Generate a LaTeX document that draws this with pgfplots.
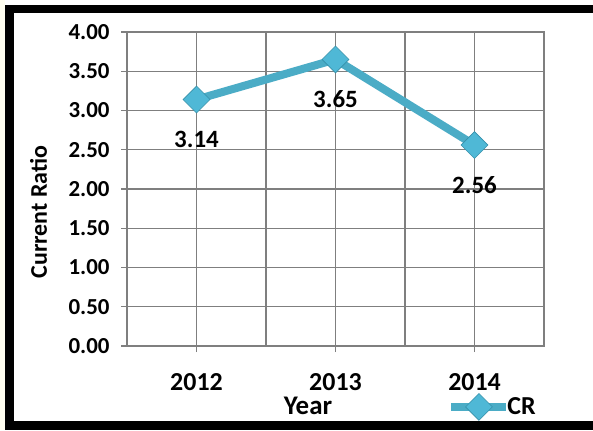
\documentclass[border=0pt]{standalone}
\usepackage{pgfplots}
\pgfplotsset{compat=1.18}
\usepackage{fontspec}
\setmainfont{Carlito}
\definecolor{crline}{HTML}{4BACC6}
\definecolor{crmark}{HTML}{4FB8D6}
\definecolor{crmarkd}{HTML}{3590AA}
\definecolor{gridgray}{HTML}{7F7F7F}
\newcommand{\bfs}[1]{\bfseries\fontsize{#1}{#1}\selectfont}
\begin{document}
\begin{tikzpicture}[x=1bp,y=1bp]
\useasboundingbox (0,0) rectangle (593,430);
\fill[white] (0,0) rectangle (593,430);
\fill[yellow!6] (0,0) rectangle (5,430);
\begin{axis}[
  at={(127bp,84bp)}, anchor=south west,
  scale only axis, width=417bp, height=314bp,
  xmin=0, xmax=6, ymin=0, ymax=4,
  xtick={1,3,5}, xticklabels={2012,2013,2014},
  minor xtick={0,2,4,6},
  ytick={0,0.5,...,4},
  grid=both,
  major grid style={draw=gridgray, line width=1.3bp},
  minor grid style={draw=gridgray, line width=1.3bp},
  axis line style={draw=gridgray, line width=1.3bp},
  tick style={draw=gridgray, line width=1.3bp},
  tick align=outside, major tick length=6bp, minor tick length=0pt,
  xtick pos=left, ytick pos=left,
  /pgf/number format/assume math mode=true,
  yticklabel style={/pgf/number format/.cd, fixed, fixed zerofill, precision=2, /tikz/.cd, font=\bfs{23}, xshift=-8bp},
  xticklabel style={font=\bfs{26}, yshift=-18bp},
  legend style={at={(axis description cs:0.768,-0.194)}, anchor=west, draw=none, fill=none, inner sep=0pt, font=\bfs{26},
    nodes={inner sep=0pt}},
  legend cell align=left,
  /tikz/every even column/.append style={column sep=0bp},
  legend image code/.code={\draw[mark repeat=2,mark phase=2,#1] plot coordinates {(0bp,0bp) (27.5bp,0bp) (55bp,0bp)};},
  clip=false,
]
\addplot[color=crline, line width=8bp, mark=square*, mark size=9.5bp,
  mark options={rotate=45, fill=crmark, draw=crmarkd, line width=0.6bp},
  nodes near coords={\pgfmathprintnumber[fixed,fixed zerofill,precision=2]{\pgfplotspointmeta}},
  nodes near coords style={anchor=base, yshift=-48bp, font=\bfs{25}, text=black}]
  coordinates {(1,3.14) (3,3.65) (5,2.56)};
\addlegendentry{\hspace{-3bp}CR}
\end{axis}
\node[rotate=90, font=\bfs{24}] at (38.5,218) {Current Ratio};
\node[anchor=base, font=\bfs{27}, inner sep=0pt] at (308,16) {Year};
\fill[black] (5,0) rectangle (14,425);
\fill[black] (5,417) rectangle (593,425);
\fill[black] (5,0) rectangle (593,9);
\end{tikzpicture}
\end{document}
